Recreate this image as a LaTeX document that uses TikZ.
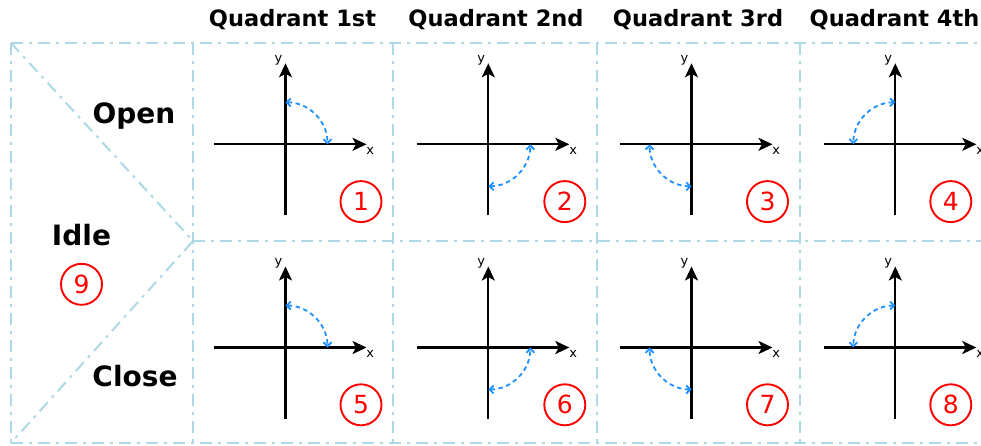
\documentclass[tikz,border=0pt]{standalone}
\usepackage{fontspec}
\setmainfont{DejaVu Sans}
\usetikzlibrary{arrows.meta}
\definecolor{gridblue}{RGB}{173,216,230}
\definecolor{arcblue}{RGB}{30,144,255}
\definecolor{numred}{RGB}{255,0,0}
\tikzset{
  gridline/.style={draw=gridblue, line width=2pt, dash pattern=on 12pt off 6pt on 3pt off 6pt},
  axisline/.style={draw=black, line width=2.2pt, -{Stealth[length=14pt,width=13pt,inset=3.5pt]}},
  arcline/.style={draw=arcblue, line width=1.8pt, dash pattern=on 4.5pt off 3.5pt,
    {Straight Barb[length=4pt,width=8pt]}-{Straight Barb[length=4pt,width=8pt]}},
  axlabel/.style={inner sep=0pt, anchor=base, font=\fontsize{13}{15}\selectfont},
  header/.style={inner sep=0pt, anchor=base, font=\fontsize{22.5}{26}\selectfont\bfseries},
  rowlabel/.style={inner sep=0pt, anchor=base, font=\fontsize{28}{32}\selectfont\bfseries},
  numcircle/.style={circle, draw=numred, line width=1.9pt, minimum size=41pt, inner sep=0pt,
    text=numred, font=\fontsize{25}{28}\selectfont}
}
\begin{document}
\begin{tikzpicture}[x=1pt,y=-1pt]
\useasboundingbox (0,0) rectangle (981,445);
% grid corners
\coordinate (tl) at (11,43);
\coordinate (tr) at (981,43);
\coordinate (bl) at (11,443);
\coordinate (br) at (981,443);
\coordinate (mid) at (193,241);
\coordinate (mr) at (981,241);
\draw[gridline] (tl) -- (tr);
\draw[gridline] (bl) -- (br);
\draw[gridline] (tl) -- (bl);
\draw[gridline] (mid) -- (mr);
\draw[gridline] (tl) -- (mid) -- (bl);
\foreach \cx in {193,393,597,800}{
  \coordinate (ct\cx) at (\cx,43);
  \coordinate (cb\cx) at (\cx,443);
  \draw[gridline] (ct\cx) -- (cb\cx);
}
% headers
\node[header] (h1) at (292.5,26) {Quadrant 1st};
\node[header] (h2) at (496,26) {Quadrant 2nd};
\node[header] (h3) at (698,26) {Quadrant 3rd};
\node[header] (h4) at (894.5,26) {Quadrant 4th};
% row labels
\node[rowlabel] (open) at (134,123) {Open};
\node[rowlabel] (idle) at (81.5,245.5) {Idle};
\node[rowlabel] (close) at (135,386.5) {Close};
\node[numcircle] (n9) at (81.5,284.3) {9};
% cells
\foreach \n/\ox/\oy/\sx/\sy/\dx in {
  1/285.5/144.3/1/-1/75.5, 2/488.3/144.3/1/1/76.5, 3/691.5/144.3/-1/1/76, 4/895.3/144.3/-1/-1/55.5,
  5/285.5/347.5/1/-1/75.5, 6/488.3/347.5/1/1/76.5, 7/691.5/347.5/-1/1/76, 8/895.3/347.5/-1/-1/55.5}{
  \coordinate (o\n) at (\ox,\oy);
  \coordinate (xl\n) at ({\ox-71.5},\oy);
  \coordinate (xr\n) at ({\ox+81},\oy);
  \coordinate (yb\n) at (\ox,{\oy+71});
  \coordinate (yt\n) at (\ox,{\oy-81});
  \draw[axisline] (xl\n) -- (xr\n);
  \draw[axisline] (yb\n) -- (yt\n);
  \node[axlabel] (lx\n) at ({\ox+84.8},{\oy+9.7}) {x};
  \node[axlabel] (ly\n) at ({\ox-7},{\oy-82.3}) {y};
  \coordinate (pa\n) at ({\ox+\sx*42},\oy);
  \coordinate (pb\n) at (\ox,{\oy+\sy*42});
  \coordinate (ca\n) at ({\ox+\sx*42},{\oy+\sy*23.2});
  \coordinate (cb\n) at ({\ox+\sx*23.2},{\oy+\sy*42});
  \draw[arcline] (pb\n) .. controls (cb\n) and (ca\n) .. (pa\n);
  \node[numcircle] (n\n) at ({\ox+\dx},{\oy+57.3}) {\n};
}
\end{tikzpicture}
\end{document}
